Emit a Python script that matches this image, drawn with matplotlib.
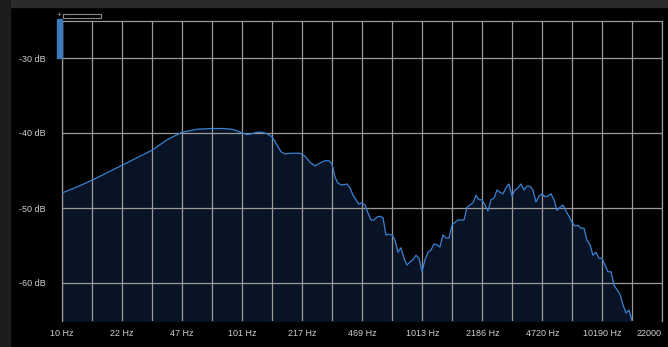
import numpy as np
import matplotlib.pyplot as plt
from matplotlib.patches import Rectangle
from matplotlib.ticker import FixedLocator, NullFormatter

plt.rcParams['font.family'] = ['Liberation Sans', 'DejaVu Sans']

# spectrum - frequencies (Hz) and levels (dB)
freq_low = [10, 12.1, 14.7, 17.8, 21.6, 26.2, 31.7, 38.5, 46.6, 56.5,
            68.5, 77.9, 88.5, 94.4, 100.6, 107.3, 114.4, 122.0, 130.1, 138.7,
            147.9, 157.6, 166.0, 174.7, 186.3, 198.6, 211.8, 225.8, 240.7, 256.7,
            273.6, 291.8, 307.3]
db_low = [-48.0, -47.2, -46.3, -45.3, -44.3, -43.3, -42.3, -40.9, -39.9, -39.5,
          -39.4, -39.4, -39.5, -39.7, -40.0, -40.2, -40.1, -39.9, -39.9, -40.1,
          -40.5, -41.6, -42.5, -42.8, -42.7, -42.7, -42.7, -43.1, -43.9, -44.4,
          -44.0, -43.7, -43.7]

freq_high = [319, 332, 345, 358, 372, 387, 402, 418, 434, 451,
             469, 488, 507, 527, 547, 569, 591, 614, 638, 663,
             689, 716, 744, 773, 804, 835, 868, 902, 938, 974,
             1013, 1052, 1094, 1136, 1181, 1227, 1275, 1326, 1378, 1432,
             1488, 1546, 1607, 1670, 1735, 1804, 1874, 1948, 2024, 2104,
             2186, 2272, 2361, 2454, 2550, 2650, 2754, 2862, 2974, 3091,
             3212, 3338, 3469, 3605, 3746, 3893, 4046, 4204, 4369, 4541,
             4720, 4905, 5097, 5297, 5505, 5721, 5945, 6178, 6420, 6672,
             6934, 7206, 7488, 7782, 8087, 8404, 8733, 9076, 9432, 9802,
             10190, 10590, 11000, 11440, 11890, 12350, 12840, 13340, 13870, 14410,
             14970]
db_high = [-44.1, -45.9, -46.7, -46.9, -46.9, -46.8, -47.3, -48.3, -48.9, -49.5,
           -49.3, -49.6, -50.7, -51.6, -51.6, -51.2, -51.1, -51.3, -53.6, -53.5,
           -53.6, -54.3, -55.9, -55.3, -56.7, -57.6, -57.2, -56.9, -56.3, -56.7,
           -58.5, -56.9, -55.9, -55.6, -54.8, -54.9, -55.2, -53.6, -54.0, -54.0,
           -52.3, -51.9, -51.6, -51.6, -51.6, -49.9, -49.6, -49.3, -48.3, -48.9,
           -48.9, -49.6, -50.4, -48.9, -48.7, -47.6, -47.9, -48.1, -47.3, -46.8,
           -48.4, -47.6, -47.3, -46.8, -47.6, -47.1, -47.1, -47.6, -49.2, -48.4,
           -48.1, -48.5, -48.4, -48.1, -48.9, -50.3, -49.9, -49.6, -50.4, -51.1,
           -51.9, -52.4, -52.3, -52.7, -52.7, -54.3, -54.9, -56.3, -55.9, -56.7,
           -56.7, -57.6, -58.5, -58.5, -60.3, -60.9, -61.5, -62.9, -64.0, -63.6,
           -65.0]

freq_ticks = [10, 21.6, 46.7, 100.9, 217.9, 470.6, 1016.5, 2195.5, 4742.2, 10242.5, 22000]
freq_labels = ['10 Hz', '22 Hz', '47 Hz', '101 Hz', '217 Hz', '469 Hz',
               '1013 Hz', '2186 Hz', '4720 Hz', '10190 Hz', '22000']
freq_minor = [14.7, 31.7, 68.6, 148.2, 320.2, 691.5, 1494, 3227, 6969, 15010]
db_ticks = [-30, -40, -50, -60]
db_labels = ['-30 dB', '-40 dB', '-50 dB', '-60 dB']

freq = freq_low + freq_high
db = db_low + db_high

W, H = 668, 347
fig = plt.figure(figsize=(W / 100, H / 100), dpi=100, facecolor='black')
ax = fig.add_axes([62 / W, (H - 320.5) / H, 600 / W, 300 / H])
ax.set_facecolor('black')

ax.fill_between(freq, db, -80, color='#081426', lw=0, zorder=1)
ax.plot(freq, db, color='#3b82d4', lw=0.9, zorder=3)

ax.set_xscale('log')
ax.set_xlim(10, 22000)
ax.set_ylim(-65, -25)

ax.xaxis.set_major_locator(FixedLocator(freq_ticks))
ax.set_xticklabels(freq_labels)
ax.xaxis.set_minor_locator(FixedLocator(freq_minor))
ax.xaxis.set_minor_formatter(NullFormatter())
ax.set_yticks(db_ticks)
ax.set_yticklabels(db_labels)

ax.grid(True, which='both', axis='x', color='#9a9a9a', lw=0.9, zorder=2)
ax.grid(True, which='major', axis='y', color='#9a9a9a', lw=0.9, zorder=2)
ax.set_axisbelow(False)
ax.tick_params(which='both', length=0, colors='#cfcfcf', labelsize=6.5)
ax.tick_params(axis='x', pad=6)
ax.tick_params(axis='y', pad=11.5)
# last frequency label sits against the right edge
ax.get_xticklabels()[-1].set_horizontalalignment('right')
ax.get_xticklabels()[-1].set_x(22000)
for side in ['left', 'top', 'right']:
    ax.spines[side].set_color('#9a9a9a')
    ax.spines[side].set_linewidth(0.9)
ax.spines['bottom'].set_visible(False)

# frame decorations of the analyzer window
fig.patches.append(Rectangle((0, (H - 7) / H), 1, 7 / H, transform=fig.transFigure,
                             color='#2b2b2b', zorder=0))
fig.patches.append(Rectangle((0, 0), 10 / W, 1, transform=fig.transFigure,
                             color='#1c1c1c', zorder=0))
fig.patches.append(Rectangle((57 / W, (H - 58) / H), 5 / W, 39 / H, transform=fig.transFigure,
                             color='#3d78b8', zorder=5))
fig.patches.append(Rectangle((63 / W, (H - 18) / H), 38 / W, 4 / H, transform=fig.transFigure,
                             fill=False, ec='#8a8a8a', lw=0.8, zorder=5))
fig.text(59.5 / W, (H - 15.5) / H, '+', color='#9a9a9a', fontsize=6,
         ha='center', va='center')

fig.savefig('out.png', dpi=100, facecolor='black')
